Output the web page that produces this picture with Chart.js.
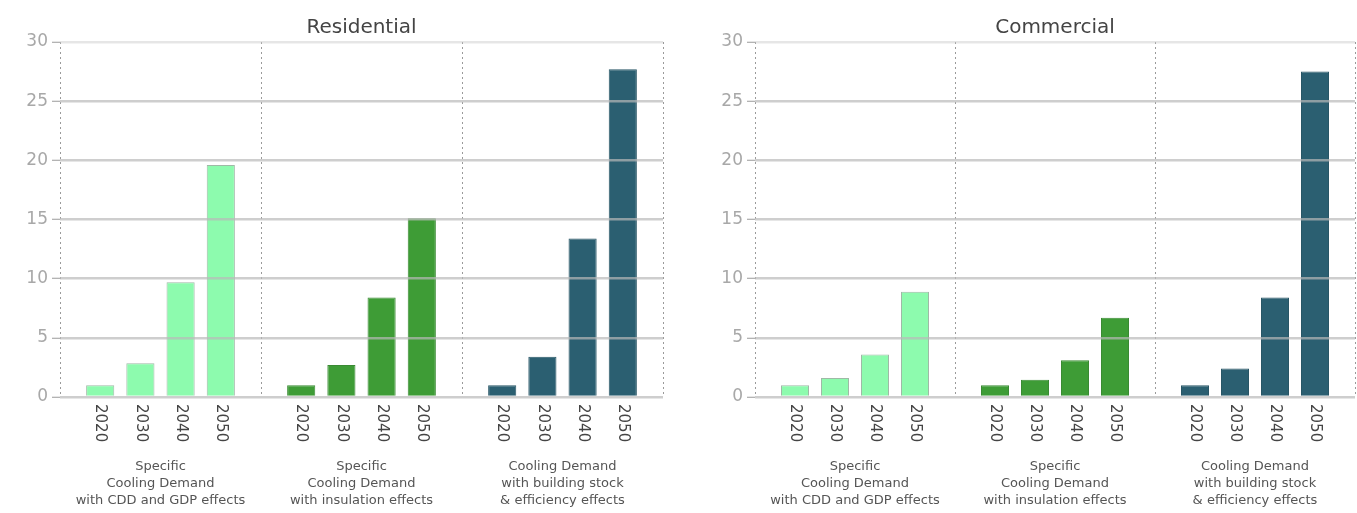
<!DOCTYPE html>
<html>
<head>
<meta charset="utf-8">
<script src="https://cdn.jsdelivr.net/npm/chart.js@4/dist/chart.umd.min.js"></script>
<style>
    html, body { margin: 0; padding: 0; background: #fff; }
    .panel { position: absolute; top: 0; height: 513px; }
    #left-panel { left: 0; width: 678px; }
    #right-panel { left: 678px; width: 679px; }
</style>
</head>
<body>
<div class="panel" id="left-panel"><canvas id="residentialChart"></canvas></div>
<div class="panel" id="right-panel"><canvas id="commercialChart"></canvas></div>
<script>
// values
const years = ['2020', '2030', '2040', '2050'];
const groupCaptions = [
    ['Specific', 'Cooling Demand', 'with CDD and GDP effects'],
    ['Specific', 'Cooling Demand', 'with insulation effects'],
    ['Cooling Demand', 'with building stock', '& efficiency effects']
];
const residentialCdd = [1.0, 2.85, 9.7, 19.6];
const residentialInsulation = [1.0, 2.7, 8.4, 15.1];
const residentialStock = [1.0, 3.4, 13.4, 27.7];
const commercialCdd = [1.0, 1.6, 3.6, 8.9];
const commercialInsulation = [1.0, 1.45, 3.1, 6.7];
const commercialStock = [1.0, 2.4, 8.4, 27.5];
const yMin = 0;
const yMax = 30;
const yStep = 5;

const groupColors = ['#8dfbae', '#3e9c36', '#2b5f71'];
const groupBorders = ['#9fb9a6', '#3a8a33', '#285666'];

const wideFont = '"DejaVu Sans", "Open Sans", sans-serif';

// 16 slots: separators at 0, 5, 10, 15, bars in between
function buildSlots(groups) {
    const labels = [''];
    const values = [null];
    const colors = ['transparent'];
    const borders = ['transparent'];
    groups.forEach((g, gi) => {
        g.forEach((v, i) => {
            labels.push(years[i]);
            values.push(v);
            colors.push(groupColors[gi]);
            borders.push(groupBorders[gi]);
        });
        labels.push('');
        values.push(null);
        colors.push('transparent');
        borders.push('transparent');
    });
    return { labels, values, colors, borders };
}

const labelPlugin = {
    id: 'panelLabels',
    afterDraw(chart) {
        const ctx = chart.ctx;
        const x = chart.scales.x;
        const area = chart.chartArea;
        ctx.save();

        // panel title
        ctx.fillStyle = '#444';
        ctx.font = '20px ' + wideFont;
        ctx.textAlign = 'center';
        ctx.textBaseline = 'middle';
        ctx.fillText(chart.options.plugins.panelLabels.title, (area.left + area.right) / 2, 28);

        // rotated year labels (top to bottom)
        ctx.font = '15px ' + wideFont;
        ctx.fillStyle = '#444';
        chart.data.labels.forEach((lab, i) => {
            if (!lab) return;
            const px = x.getPixelForValue(i);
            ctx.save();
            ctx.translate(px, area.bottom + 7);
            ctx.rotate(Math.PI / 2);
            ctx.textAlign = 'left';
            ctx.textBaseline = 'middle';
            ctx.fillText(lab, 0, 0);
            ctx.restore();
        });

        // group captions
        ctx.font = '13px ' + wideFont;
        ctx.fillStyle = '#555';
        ctx.textAlign = 'center';
        groupCaptions.forEach((lines, gi) => {
            const cx = (x.getPixelForValue(gi * 5) + x.getPixelForValue(gi * 5 + 5)) / 2;
            lines.forEach((line, li) => {
                ctx.fillText(line, cx, 467 + li * 17);
            });
        });
        ctx.restore();
    }
};

function makeChart(canvasId, title, groups, axisWidth, padRight) {
    const slots = buildSlots(groups);
    return new Chart(document.getElementById(canvasId), {
        type: 'bar',
        data: {
            labels: slots.labels,
            datasets: [{
                data: slots.values,
                backgroundColor: slots.colors,
                borderColor: slots.borders,
                borderWidth: 1,
                barPercentage: 0.7,
                categoryPercentage: 1
            }]
        },
        options: {
            responsive: true,
            maintainAspectRatio: false,
            animation: false,
            layout: { padding: { top: 42, right: padRight, bottom: 116, left: 0 } },
            plugins: {
                legend: { display: false },
                tooltip: { enabled: false },
                panelLabels: { title: title }
            },
            scales: {
                x: {
                    offset: false,
                    grid: {
                        offset: false,
                        drawTicks: false,
                        lineWidth: 1,
                        color: (c) => (c.index % 5 === 0 ? '#9a9a9a' : 'transparent')
                    },
                    border: { display: false, dash: [2, 3] },
                    ticks: { display: false, autoSkip: false }
                },
                y: {
                    min: yMin,
                    max: yMax,
                    afterFit: (scale) => { scale.width = axisWidth; },
                    ticks: {
                        stepSize: yStep,
                        color: '#a8a8a8',
                        padding: 4,
                        font: { family: wideFont, size: 17 }
                    },
                    grid: {
                        z: 1,
                        lineWidth: 2.5,
                        tickLength: 8,
                        tickWidth: 1,
                        tickColor: '#9a9a9a',
                        color: (c) => (c.tick && c.tick.value === yMax ? 'rgba(200,200,200,0.45)' : 'rgba(185,185,185,0.7)')
                    },
                    border: { display: false }
                }
            }
        },
        plugins: [labelPlugin]
    });
}

makeChart('residentialChart', 'Residential',
    [residentialCdd, residentialInsulation, residentialStock], 60, 15);
makeChart('commercialChart', 'Commercial',
    [commercialCdd, commercialInsulation, commercialStock], 77, 2);
</script>
</body>
</html>
